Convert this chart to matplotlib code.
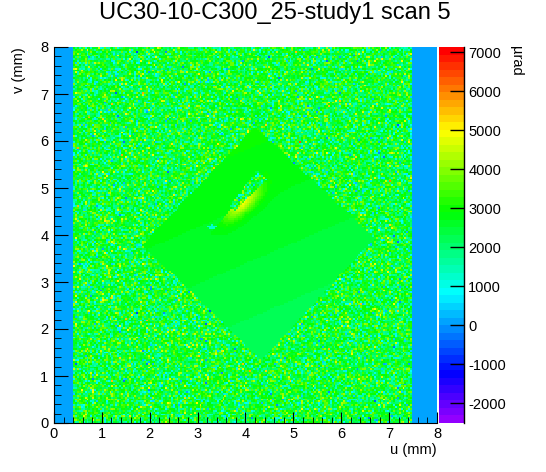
import colorsys
import numpy as np
import matplotlib
matplotlib.use("Agg")
import matplotlib.pyplot as plt
from matplotlib.colors import ListedColormap
from matplotlib.ticker import MultipleLocator

plt.rcParams['font.family'] = ['Liberation Sans', 'DejaVu Sans']
plt.rcParams['axes.unicode_minus'] = False

# ---- chart text ----
title = "UC30-10-C300_25-study1 scan 5"
xlabel = "u (mm)"
ylabel = "v (mm)"
zlabel = "\u00b5rad"

# ---- scan grid (mm) ----
u_range = [0.0, 8.0]
v_range = [0.0, 8.0]
n_bins = [200, 200]

# ---- value range of the colour scale (µrad) ----
z_range = [-2510, 7130]
z_ticks = [-2000, -1000, 0, 1000, 2000, 3000, 4000, 5000, 6000, 7000]

# ---- regions ----
band_value = 0                      # blue stripes at both sides
left_band_end = 0.40
right_band_start = 7.46
background_mean = 2550              # noisy area
background_sd = 880
diamond_u = [4.20, 6.70, 4.34, 1.84]  # top, right, bottom, left corners
diamond_v = [6.30, 3.94, 1.34, 3.79]
diamond_center = [4.25, 3.80]
diamond_level = 2550
diamond_slope_v = 160
diamond_slope_u = -70
defect_start = [3.72, 4.57]         # noisy strip inside the diamond
defect_end = [4.34, 5.28]
defect_halfwidth = [0.07, 0.14]     # at start, at end
glow_peak = 4700                    # yellow glow along the strip
spot_center = [3.30, 4.17]
spot_value = 1200

# ---- ROOT "pretty" palette: 50 hues, 280 -> 0 ----
n_col = 50
palette = [colorsys.hls_to_rgb((280 - (i + 1) * 280 / n_col) / 360.0, 0.5, 1.0)
           for i in range(n_col)]
cmap = ListedColormap(palette)

# ---- build the map ----
du = (u_range[1] - u_range[0]) / n_bins[0]
dv = (v_range[1] - v_range[0]) / n_bins[1]
uc = u_range[0] + du * (np.arange(n_bins[0]) + 0.5)
vc = v_range[0] + dv * (np.arange(n_bins[1]) + 0.5)
U, V = np.meshgrid(uc, vc)

# measurement noise texture (cannot be read pixel by pixel)
rng = np.random.default_rng(5)
noise = rng.normal(background_mean, background_sd, U.shape)
Z = noise.copy()

# diamond (rotated square) region
cu, cv = diamond_center
inside = np.ones_like(U, dtype=bool)
pts = list(zip(diamond_u, diamond_v))
for k in range(4):
    x1, y1 = pts[k]
    x2, y2 = pts[(k + 1) % 4]
    cross = (x2 - x1) * (V - y1) - (y2 - y1) * (U - x1)
    inside &= cross <= 0
dia = diamond_level + diamond_slope_v * (V - cv) + diamond_slope_u * (U - cu)

# noisy strip inside the diamond, with a yellow glow on its lower-right side
a = np.array(defect_start)
b = np.array(defect_end)
L = np.hypot(*(b - a))
d = (b - a) / L
n = np.array([d[1], -d[0]])          # points to lower right
t = ((U - a[0]) * d[0] + (V - a[1]) * d[1]) / L
perp = (U - a[0]) * n[0] + (V - a[1]) * n[1]
hw = defect_halfwidth[0] + np.clip(t, 0, 1) * (defect_halfwidth[1] - defect_halfwidth[0])
strip = (t >= 0) & (t <= 1) & (np.abs(perp) < hw)
along = np.exp(-((t - 0.25) / 0.5) ** 2)
glow = (glow_peak - diamond_level) * along * np.exp(-(np.clip(perp - hw, 0, None) / 0.2) ** 2) * (perp > 0)
dia = dia + glow
sd = np.hypot((U - spot_center[0]) * 0.8, (V - spot_center[1]) * 1.4)
dia = np.where(sd < 0.07, spot_value, dia)

Z = np.where(inside & ~strip, dia, Z)
Z = np.where((U < left_band_end) | (U > right_band_start), band_value, Z)
Z = np.clip(Z, z_range[0] + 1, z_range[1] - 1)

# ---- figure ----
fig = plt.figure(figsize=(5.46, 4.72), dpi=100)
ax = fig.add_axes([54 / 546, 1 - 423 / 472, 383 / 546, 376 / 472])
cax = fig.add_axes([439 / 546, 1 - 423 / 472, 25 / 546, 376 / 472])

im = ax.imshow(Z, origin='lower', extent=[u_range[0], u_range[1], v_range[0], v_range[1]],
               cmap=cmap, vmin=z_range[0], vmax=z_range[1], aspect='auto',
               interpolation='nearest')
ax.set_xlim(u_range)
ax.set_ylim(v_range)
for s in ['top', 'right']:
    ax.spines[s].set_visible(False)
ax.xaxis.set_major_locator(MultipleLocator(1))
ax.xaxis.set_minor_locator(MultipleLocator(0.2))
ax.yaxis.set_major_locator(MultipleLocator(1))
ax.yaxis.set_minor_locator(MultipleLocator(0.2))
ax.tick_params(which='both', direction='in', top=False, right=False, labelsize=10.5)
ax.tick_params(axis='x', which='major', length=8, pad=3)
ax.tick_params(axis='x', which='minor', length=4)
ax.tick_params(axis='y', which='major', length=10, pad=4)
ax.tick_params(axis='y', which='minor', length=5)

ax.set_xlabel(xlabel, fontsize=10.5, loc='right', labelpad=1)
ax.set_ylabel(ylabel, fontsize=10.5, loc='top', labelpad=10)
fig.suptitle(title, fontsize=17, x=0.503, y=0.995)

cb = fig.colorbar(im, cax=cax, ticks=z_ticks)
cb.outline.set_visible(False)
cax.spines['right'].set_visible(True)
cax.spines['right'].set_linewidth(1.0)
cax.tick_params(direction='in', length=10, labelsize=10.5, pad=3, width=1)
cb.minorticks_off()
fig.text(516 / 546, 1 - 46 / 472, zlabel, fontsize=10.5, rotation=270,
         ha='center', va='top')

fig.savefig("out.png", dpi=100)
